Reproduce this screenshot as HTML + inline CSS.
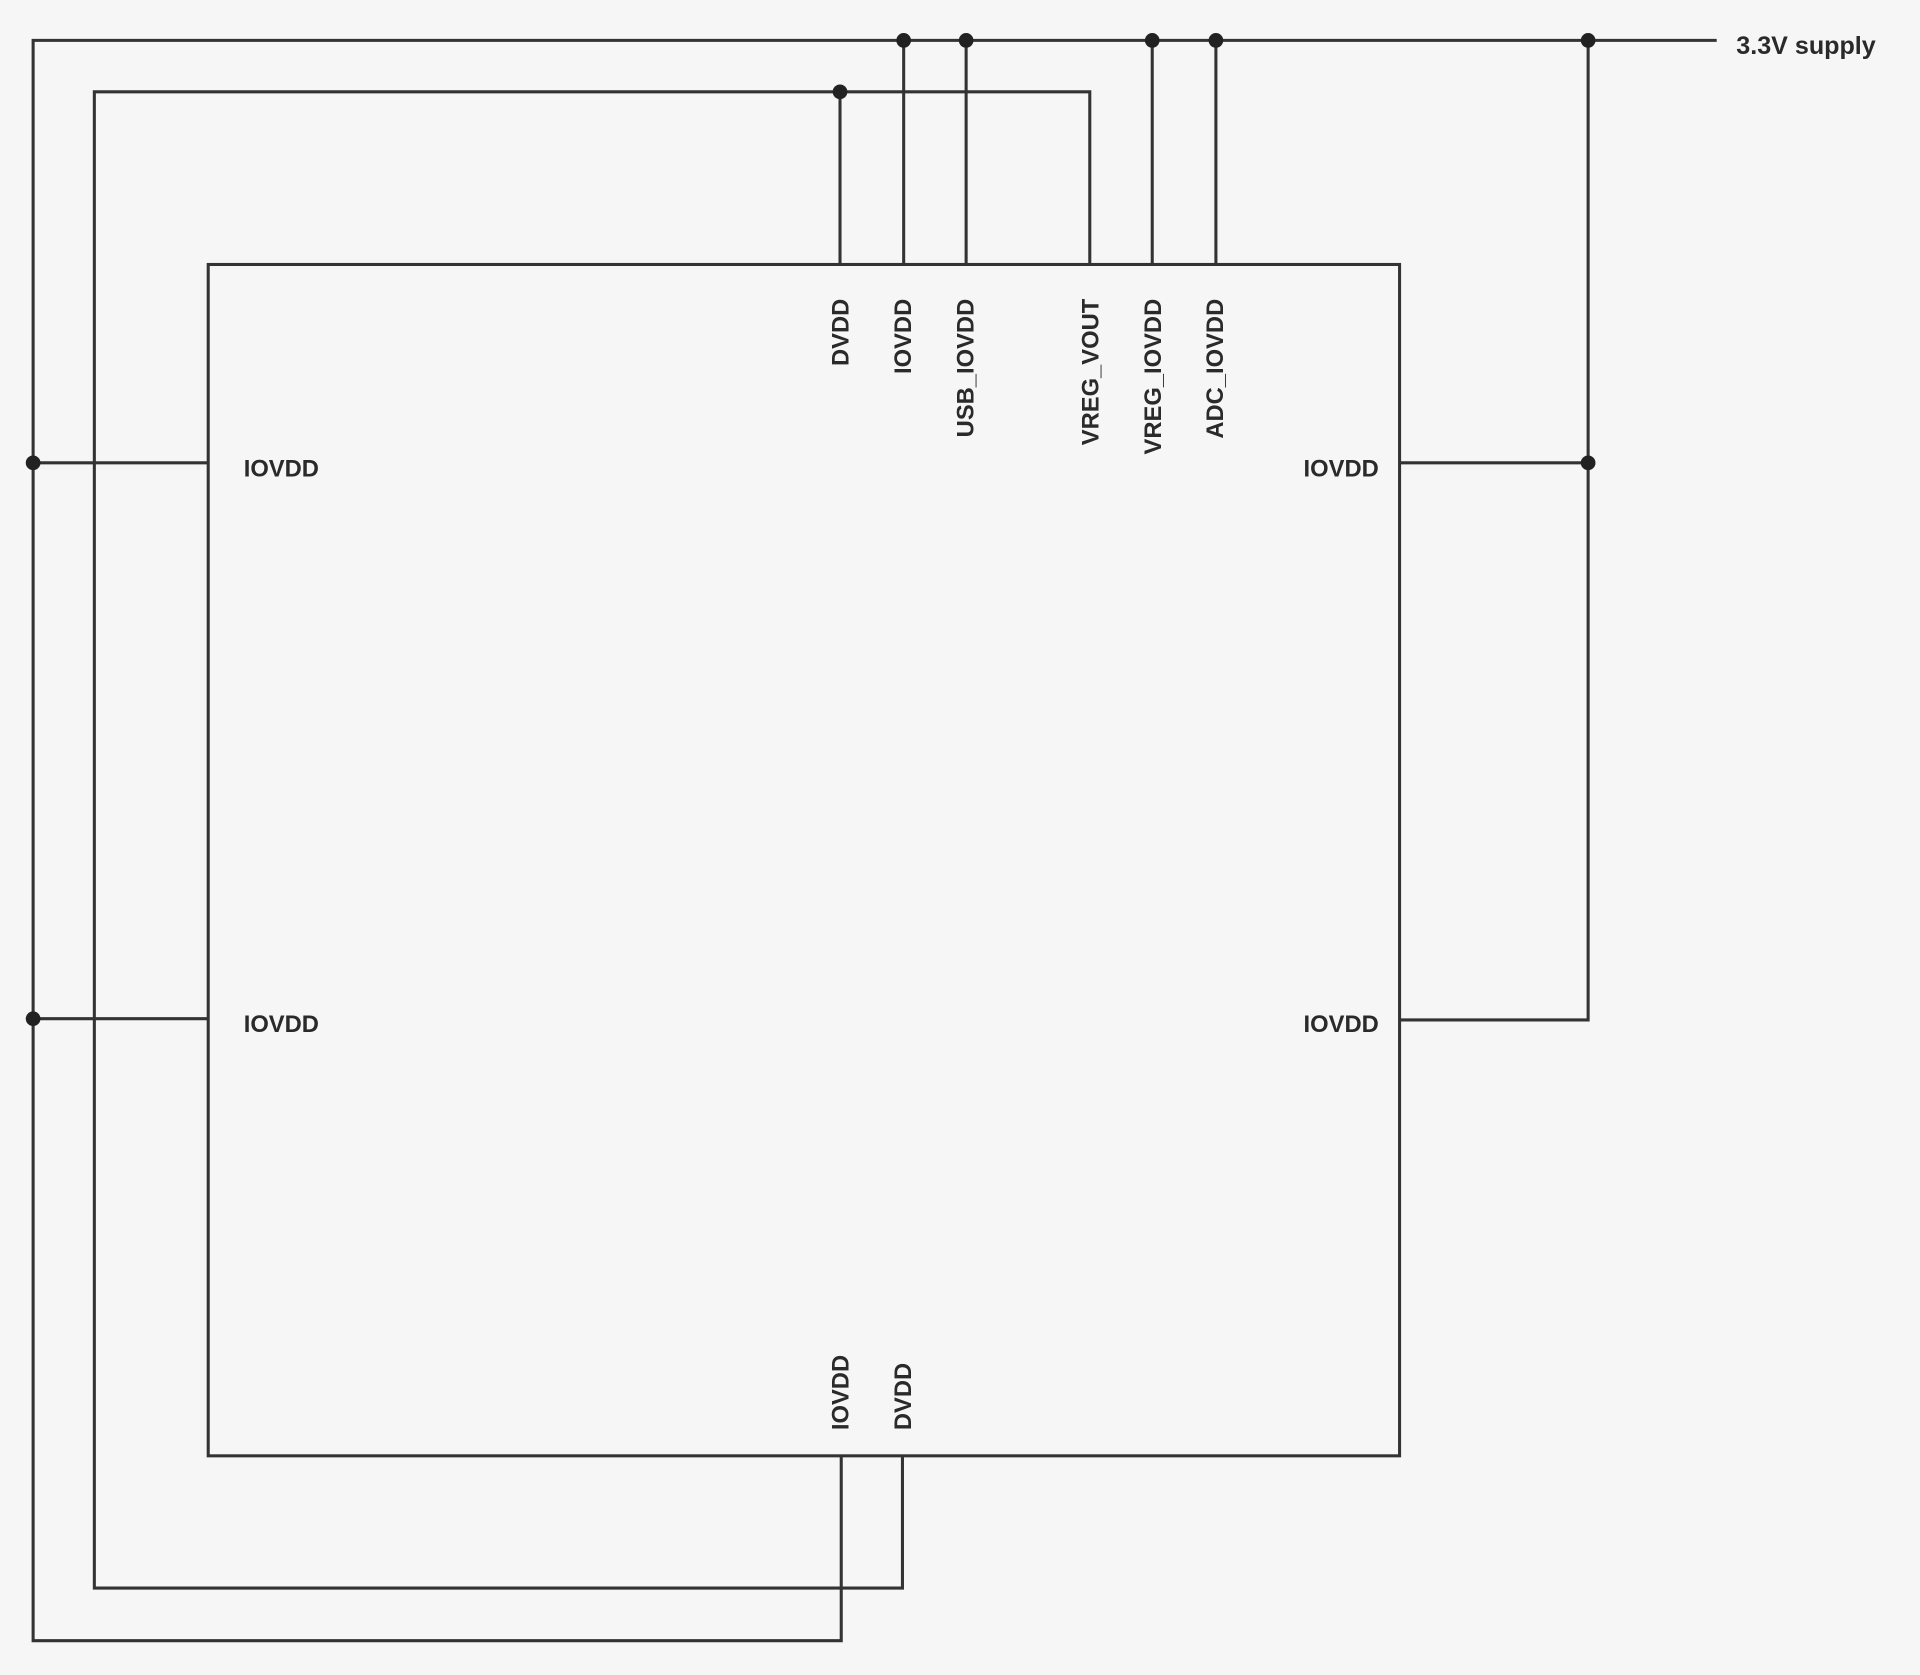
<!DOCTYPE html>
<html><head><meta charset="utf-8"><style>
html,body{margin:0;padding:0;background:#f6f6f6;}
svg{display:block;}
text{font-family:"Liberation Sans",sans-serif;font-weight:bold;font-size:19.4px;fill:#2a2a2a;}
</style></head><body>
<svg width="1920" height="1675" viewBox="0 0 1568 1368" xmlns="http://www.w3.org/2000/svg">
<rect width="1568" height="1368" fill="#f6f6f6"/>
<g stroke="#333" stroke-width="2.5" fill="none">
<rect x="170" y="216" width="973" height="973"/>
<polyline points="1402,33 27,33 27,1340 687,1340 687,1189"/>
<polyline points="686,216 686,75 77,75 77,1297 737,1297 737,1189"/>
<polyline points="686,75 890,75 890,216"/>
<line x1="738" y1="33" x2="738" y2="216"/>
<line x1="789" y1="33" x2="789" y2="216"/>
<line x1="941" y1="33" x2="941" y2="216"/>
<line x1="993" y1="33" x2="993" y2="216"/>
<line x1="27" y1="378" x2="170" y2="378"/>
<line x1="27" y1="832" x2="170" y2="832"/>
<polyline points="1297,33 1297,833 1143,833"/>
<line x1="1143" y1="378" x2="1297" y2="378"/>
</g>
<g fill="#222">
<circle cx="738" cy="33" r="6"/><circle cx="789" cy="33" r="6"/><circle cx="941" cy="33" r="6"/><circle cx="993" cy="33" r="6"/><circle cx="1297" cy="33" r="6"/>
<circle cx="686" cy="75" r="6"/>
<circle cx="27" cy="378" r="6"/><circle cx="27" cy="832" r="6"/><circle cx="1297" cy="378" r="6"/>
</g>
<text x="1418" y="44" style="font-size:20.5px">3.3V supply</text>
<text x="199" y="389">IOVDD</text>
<text x="199" y="843">IOVDD</text>
<text x="1126" y="389" text-anchor="end">IOVDD</text>
<text x="1126" y="843" text-anchor="end">IOVDD</text>
<g text-anchor="end">
<text transform="translate(693,244) rotate(-90)">DVDD</text>
<text transform="translate(744,244) rotate(-90)">IOVDD</text>
<text transform="translate(795,244) rotate(-90)">USB_IOVDD</text>
<text transform="translate(897,244) rotate(-90)">VREG_VOUT</text>
<text transform="translate(948,244) rotate(-90)">VREG_IOVDD</text>
<text transform="translate(999,244) rotate(-90)">ADC_IOVDD</text>
</g>
<text transform="translate(693,1168) rotate(-90)">IOVDD</text>
<text transform="translate(744,1168) rotate(-90)">DVDD</text>
</svg>
</body></html>
